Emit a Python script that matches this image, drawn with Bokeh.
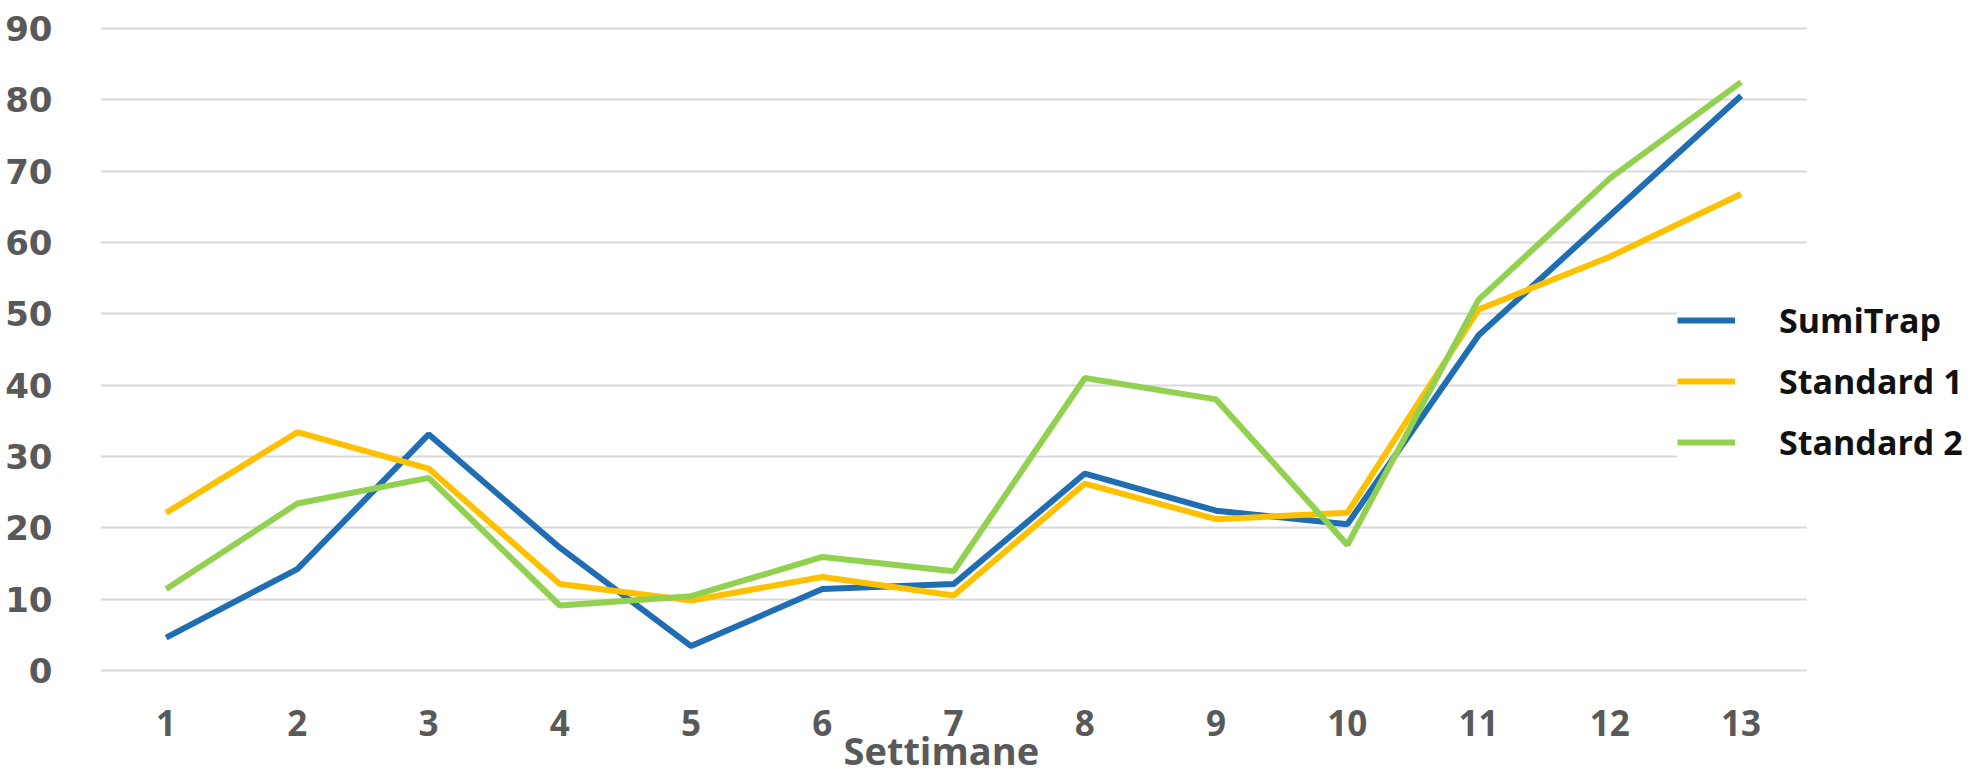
from bokeh.plotting import figure
from bokeh.models import Range1d, FixedTicker, Legend, LegendItem, BoxAnnotation, Title
from bokeh.embed import file_html
from bokeh.resources import INLINE

weeks = [1, 2, 3, 4, 5, 6, 7, 8, 9, 10, 11, 12, 13]
sumitrap = [4.6, 14.2, 33.1, 17.2, 3.4, 11.4, 12.1, 27.6, 22.4, 20.5, 47.0, 63.8, 80.6]
standard1 = [22.1, 33.4, 28.3, 12.1, 9.8, 13.1, 10.5, 26.2, 21.2, 22.1, 50.6, 58.0, 66.8]
standard2 = [11.4, 23.4, 27.0, 9.1, 10.4, 15.9, 13.9, 41.0, 38.0, 17.6, 52.0, 69.0, 82.5]
series_names = ["SumiTrap", "Standard 1", "Standard 2"]
series_colors = ["#1f6db2", "#ffc000", "#92d050"]
y_ticks = [0, 10, 20, 30, 40, 50, 60, 70, 80, 90]
x_label = "Settimane"

p = figure(width=1985, height=782, output_backend="svg", toolbar_location=None,
           x_range=Range1d(0.5, 14.862), y_range=Range1d(-0.3, 90.3),
           min_border_left=100, min_border_right=0, min_border_top=26, min_border_bottom=110)
p.outline_line_color = None
p.background_fill_color = "white"
p.border_fill_color = "white"

p.xgrid.grid_line_color = None
p.ygrid.grid_line_color = "#d9d9d9"
p.ygrid.grid_line_width = 2
p.yaxis.ticker = FixedTicker(ticks=y_ticks)
p.xaxis.ticker = FixedTicker(ticks=weeks)

for ax in (p.xaxis, p.yaxis):
    ax.axis_line_color = None
    ax.major_tick_line_color = None
    ax.minor_tick_line_color = None
    ax.major_label_text_color = "#595959"
    ax.major_label_text_font_style = "bold"

p.yaxis.major_label_text_font = "DejaVu Sans"
p.yaxis.major_label_text_font_size = "34px"
p.yaxis.major_label_standoff = 42
p.xaxis.major_label_text_font = "Open Sans"
p.xaxis.major_label_text_font_size = "35px"
p.xaxis.major_label_standoff = 31

# axis title, left-aligned under the category slots (centred under the data area)
xtitle = Title(text=x_label, align="left", offset=743, vertical_align="top", standoff=-30,
               text_font="Open Sans", text_font_size="38px", text_font_style="bold",
               text_color="#595959")
p.add_layout(xtitle, "below")

# white mask hiding the gridlines beyond the last category slot
mask = BoxAnnotation(left=13.5, fill_color="white", fill_alpha=1.0, line_color=None)
p.add_layout(mask)

items = []
for name, vals, col in zip(series_names, [sumitrap, standard1, standard2], series_colors):
    r = p.line(weeks, vals, line_color=col, line_width=6)
    items.append(LegendItem(label=name, renderers=[r]))

legend = Legend(items=items, location=(1577, 207))
legend.background_fill_color = "white"
legend.background_fill_alpha = 1.0
legend.border_line_color = None
legend.label_text_font = "Open Sans"
legend.label_text_font_style = "bold"
legend.label_text_font_size = "34px"
legend.label_text_color = "#111111"
legend.glyph_width = 58
legend.glyph_height = 40
legend.label_height = 40
legend.label_standoff = 44
legend.spacing = 15
legend.padding = 8
legend.margin = 0
p.add_layout(legend)

open("out.html", "w").write(file_html(p, INLINE))
